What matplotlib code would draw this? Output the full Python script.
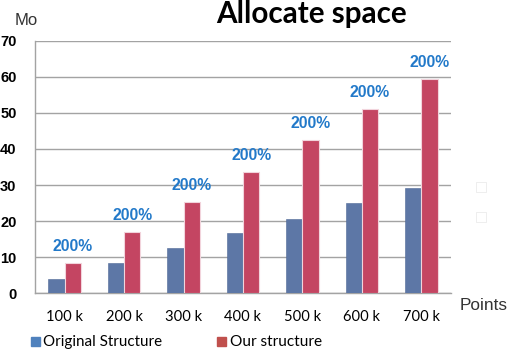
import matplotlib
matplotlib.use("Agg")
import matplotlib.pyplot as plt
from matplotlib.patches import Rectangle
import numpy as np

categories = ["100 k", "200 k", "300 k", "400 k", "500 k", "600 k", "700 k"]
original = [4.0, 8.3, 12.5, 16.6, 20.6, 25.1, 29.1]
ours = [8.3, 17.0, 25.4, 33.7, 42.5, 51.0, 59.4]
pct_labels = ["200%"] * 7
yticks = [0, 10, 20, 30, 40, 50, 60, 70]
series_names = ["Original Structure", "Our structure"]

W, H = 518, 356
fig = plt.figure(figsize=(W / 100, H / 100), dpi=100)
ax = fig.add_axes([35 / W, 1 - 293.3 / H, (451 - 35) / W, (293.3 - 40.7) / H])
renderer = fig.canvas.get_renderer()


def fit_width(t, target_px):
    bb = t.get_window_extent(renderer)
    if bb.width > 0:
        t.set_fontsize(t.get_fontsize() * target_px / bb.width)


def fy(py):
    return 1 - py / H


x = np.arange(len(categories))
bw = 0.275
blue = "#5D77A6"
red = "#C44562"
ax.bar(x - bw / 2, original, bw, color=blue, edgecolor="#4f6896", linewidth=0.4, zorder=3)
ax.bar(x + bw / 2, ours, bw, color=red, edgecolor="#f2d4dc", linewidth=0.8, zorder=3)

for xi, v, t in zip(x, ours, pct_labels):
    ax.text(xi + bw / 2, v + 3.3, t, ha="center", va="baseline",
            color="#2279C9", fontsize=11.3, fontweight="bold",
            family="Liberation Sans", zorder=4)

ax.set_xlim(-0.5, len(categories) - 0.5)
ax.set_ylim(0, 70)
ax.set_yticks(yticks)
ax.set_yticklabels([str(t) for t in yticks], fontsize=10.5, fontweight="bold",
                   family="Liberation Sans")
ax.set_xticks(x)
ax.set_xticklabels(categories, fontsize=11, family="Lato")
ax.tick_params(axis="y", length=0, pad=13.3)
ax.tick_params(axis="x", length=0, pad=12)
ax.grid(axis="y", color="#a3a3a3", linewidth=1.0, zorder=0)
for s in ["top", "right"]:
    ax.spines[s].set_visible(False)
for s in ["left", "bottom"]:
    ax.spines[s].set_color("#a3a3a3")
    ax.spines[s].set_linewidth(1.0)

fig.canvas.draw()
for lab in ax.get_xticklabels():
    fit_width(lab, 37)

title = fig.text(311.5 / W, fy(23.5), "Allocate space", ha="center", va="baseline",
                 fontsize=16, fontweight="bold", family="Lato")
fit_width(title, 191)
fig.text(26.5 / W, fy(25), "Mo", ha="center", va="baseline", fontsize=12,
         family="Liberation Sans", color="#333333")
pts = fig.text(484 / W, fy(310), "Points", ha="center", va="baseline", fontsize=12.4,
               family="Liberation Sans", color="#333333")
fit_width(pts, 48)

# legend
fig.patches.append(Rectangle((30.5 / W, fy(346)), 9 / W, 9 / H, color="#4F81BD",
                             transform=fig.transFigure))
l1 = fig.text(43 / W, fy(346), series_names[0], ha="left", va="baseline",
              fontsize=10.5, family="Lato")
fit_width(l1, 120)
fig.patches.append(Rectangle((217 / W, fy(346)), 9 / W, 9 / H, color="#C0504D",
                             transform=fig.transFigure))
l2 = fig.text(230 / W, fy(346), series_names[1], ha="left", va="baseline",
              fontsize=10.5, family="Lato")
fit_width(l2, 93)

# faint squares
for yy in (182, 212):
    fig.patches.append(Rectangle((476 / W, fy(yy + 10)), 10 / W, 10 / H,
                                 facecolor="none", edgecolor="#ebebeb", linewidth=0.6,
                                 transform=fig.transFigure))

fig.savefig("out.png", dpi=100)
